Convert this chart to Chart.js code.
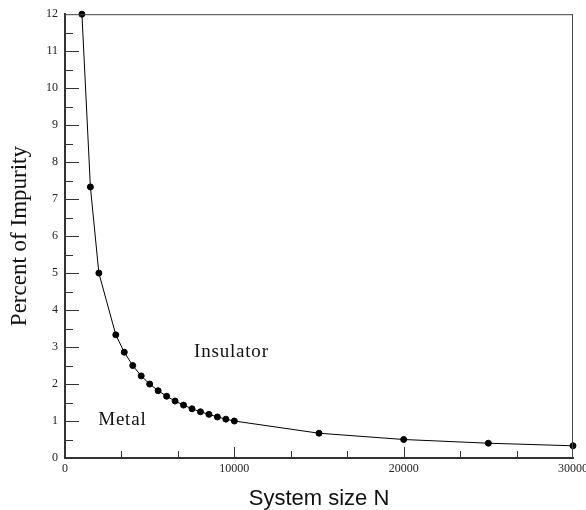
<!DOCTYPE html>
<html>
<head>
<meta charset="utf-8">
<script src="https://cdn.jsdelivr.net/npm/chart.js@4"></script>
<style>
  html, body { margin: 0; padding: 0; overflow: hidden; background: #fff; }
  #wrap { width: 600px; height: 510px; }
</style>
</head>
<body>
<div id="wrap"><canvas id="impurity-chart"></canvas></div>
<script>
const sizeN = [1000, 1500, 2000, 3000, 3500, 4000, 4500, 5000, 5500, 6000, 6500,
  7000, 7500, 8000, 8500, 9000, 9500, 10000, 15000, 20000, 25000, 30000];
const impurity = [12, 7.33, 5.0, 3.33, 2.86, 2.5, 2.22, 2.0, 1.82, 1.67, 1.54,
  1.43, 1.33, 1.25, 1.18, 1.11, 1.05, 1.0, 0.67, 0.5, 0.4, 0.33];

// region labels inside the plot
const noteText = ["Insulator", "Metal"];
const noteN = [7620, 1960];
const noteY = [2.86, 1.02];

// ticks drawn inward, box on top/right, region labels
const framePlugin = {
  id: "frame",
  afterDraw(chart) {
    const { ctx, chartArea: a, scales: { x, y } } = chart;
    ctx.save();
    ctx.strokeStyle = "#444";
    ctx.lineWidth = 1;
    ctx.beginPath();
    ctx.moveTo(a.left, a.top + 0.5);
    ctx.lineTo(a.right, a.top + 0.5);
    ctx.moveTo(a.right - 0.5, a.top);
    ctx.lineTo(a.right - 0.5, a.bottom);
    ctx.stroke();

    ctx.strokeStyle = "#333";
    ctx.beginPath();
    for (let i = 1; i < 24; i++) {
      const py = Math.round(y.getPixelForValue(i / 2)) + 0.5;
      const len = i % 2 === 0 ? 14 : 8;
      ctx.moveTo(a.left, py);
      ctx.lineTo(a.left + len, py);
    }
    for (let i = 1; i < 9; i++) {
      const px = Math.round(x.getPixelForValue((i * 10000) / 3)) + 0.5;
      const len = i % 3 === 0 ? 11 : 7;
      ctx.moveTo(px, a.bottom);
      ctx.lineTo(px, a.bottom - len);
    }
    ctx.stroke();

    ctx.fillStyle = "#111";
    ctx.font = "19px 'Liberation Serif'";
    ctx.letterSpacing = "0.8px";
    ctx.textAlign = "left";
    ctx.textBaseline = "middle";
    noteText.forEach((t, i) => {
      ctx.fillText(t, x.getPixelForValue(noteN[i]), y.getPixelForValue(noteY[i]));
    });
    ctx.restore();
  },
};

const ctx = document.getElementById("impurity-chart").getContext("2d");
new Chart(ctx, {
  type: "line",
  data: {
    datasets: [
      {
        data: sizeN.map((n, i) => ({ x: n, y: impurity[i] })),
        borderColor: "#000",
        backgroundColor: "#000",
        borderWidth: 1,
        pointRadius: 3,
        pointHoverRadius: 3,
        tension: 0,
        clip: false,
      },
    ],
  },
  options: {
    responsive: true,
    maintainAspectRatio: false,
    animation: false,
    layout: { padding: { top: 12, right: 27, left: 0, bottom: 0 } },
    plugins: { legend: { display: false }, tooltip: { enabled: false } },
    scales: {
      x: {
        type: "linear",
        min: 0,
        max: 30000,
        afterFit: (s) => { s.height = 52; },
        ticks: {
          stepSize: 10000,
          color: "#222",
          padding: 4,
          font: { family: "'Liberation Serif'", size: 12 },
          callback: (v) => String(v),
        },
        grid: { drawOnChartArea: false, drawTicks: false },
        border: { display: true, color: "#333", width: 2 },
        title: {
          display: true,
          text: "System size N",
          color: "#111",
          padding: { top: 0, bottom: 0 },
          font: { family: "'Liberation Sans'", size: 22, lineHeight: 1 },
        },
      },
      y: {
        min: 0,
        max: 12,
        afterFit: (s) => { s.width = 65; },
        ticks: {
          stepSize: 1,
          color: "#222",
          padding: 7,
          font: { family: "'Liberation Serif'", size: 12 },
        },
        grid: { drawOnChartArea: false, drawTicks: false },
        border: { display: true, color: "#333", width: 2 },
        title: {
          display: true,
          text: "Percent of Impurity",
          color: "#111",
          padding: { top: 8, bottom: 0 },
          font: { family: "'Liberation Serif'", size: 23, lineHeight: 1 },
        },
      },
    },
  },
  plugins: [framePlugin],
});
</script>
</body>
</html>
